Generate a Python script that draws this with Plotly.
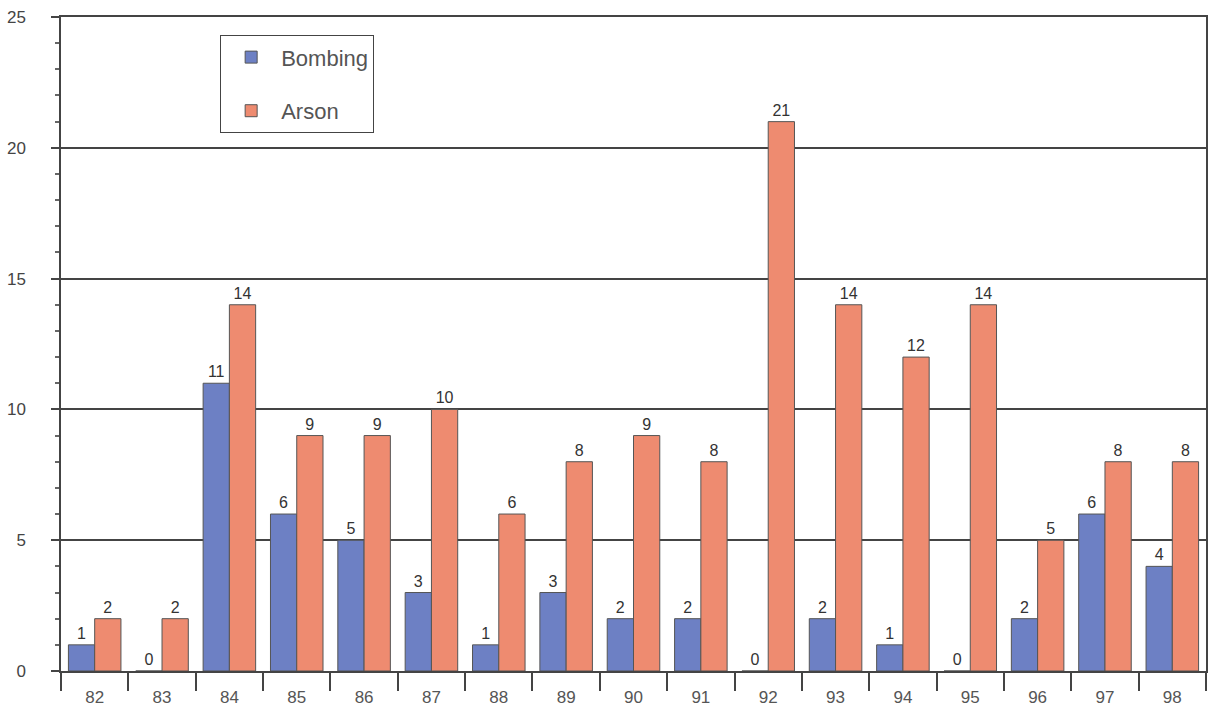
import plotly.graph_objects as go

years = ["82", "83", "84", "85", "86", "87", "88", "89", "90", "91", "92", "93", "94", "95", "96", "97", "98"]
bombing = [1, 0, 11, 6, 5, 3, 1, 3, 2, 2, 0, 2, 1, 0, 2, 6, 4]
arson = [2, 2, 14, 9, 9, 10, 6, 8, 9, 8, 21, 14, 12, 14, 5, 8, 8]

font_family = "Liberation Sans, Arial, sans-serif"
text_col = "#333333"

fig = go.Figure()
fig.add_trace(go.Bar(
    x=years, y=bombing, name="Bombing", legendgroup="b",
    marker=dict(color="#6d80c4", line=dict(color="#555555", width=1)),
    text=[str(v) for v in bombing], textposition="outside", cliponaxis=False,
    textfont=dict(size=16, color=text_col, family=font_family),
))
fig.add_trace(go.Bar(
    x=years, y=arson, name="Arson", legendgroup="a",
    marker=dict(color="#ee8b70", line=dict(color="#555555", width=1)),
    text=[str(v) for v in arson], textposition="outside", cliponaxis=False,
    textfont=dict(size=16, color=text_col, family=font_family),
))

fig.update_layout(
    width=1211, height=722,
    margin=dict(l=61, r=3, t=17, b=51),
    paper_bgcolor="white", plot_bgcolor="white",
    barmode="group", bargap=0.22, bargroupgap=0,
    font=dict(family=font_family, color=text_col),
    showlegend=True,
    legend=dict(
        x=0.139, y=0.972, xanchor="left", yanchor="top",
        bordercolor="#444444", borderwidth=1, bgcolor="white",
        font=dict(size=22, color="#555555", family=font_family),
        traceorder="grouped", tracegroupgap=22,
        itemwidth=50, entrywidth=205,
    ),
    xaxis=dict(
        type="category", showline=True, linecolor="#444444", linewidth=1.5,
        mirror=True, ticks="outside", tickson="boundaries", ticklen=18,
        tickcolor="#444444", tickwidth=1.5, showgrid=False,
        tickfont=dict(size=17, color="#555555"),
        ticklabelstandoff=10,
    ),
    yaxis=dict(
        range=[0, 25], tickvals=[0, 5, 10, 15, 20, 25],
        showline=True, linecolor="#444444", linewidth=1.5, mirror=True,
        ticks="outside", ticklen=8, tickcolor="#444444", tickwidth=1.5,
        showgrid=True, gridcolor="#444444", gridwidth=1.6,
        zeroline=False,
        tickfont=dict(size=17, color="#444444"),
        ticklabelstandoff=22,
        minor=dict(dtick=1, ticks="outside", ticklen=4, tickcolor="#666666", showgrid=False),
    ),
)

fig.write_html("out.html")
